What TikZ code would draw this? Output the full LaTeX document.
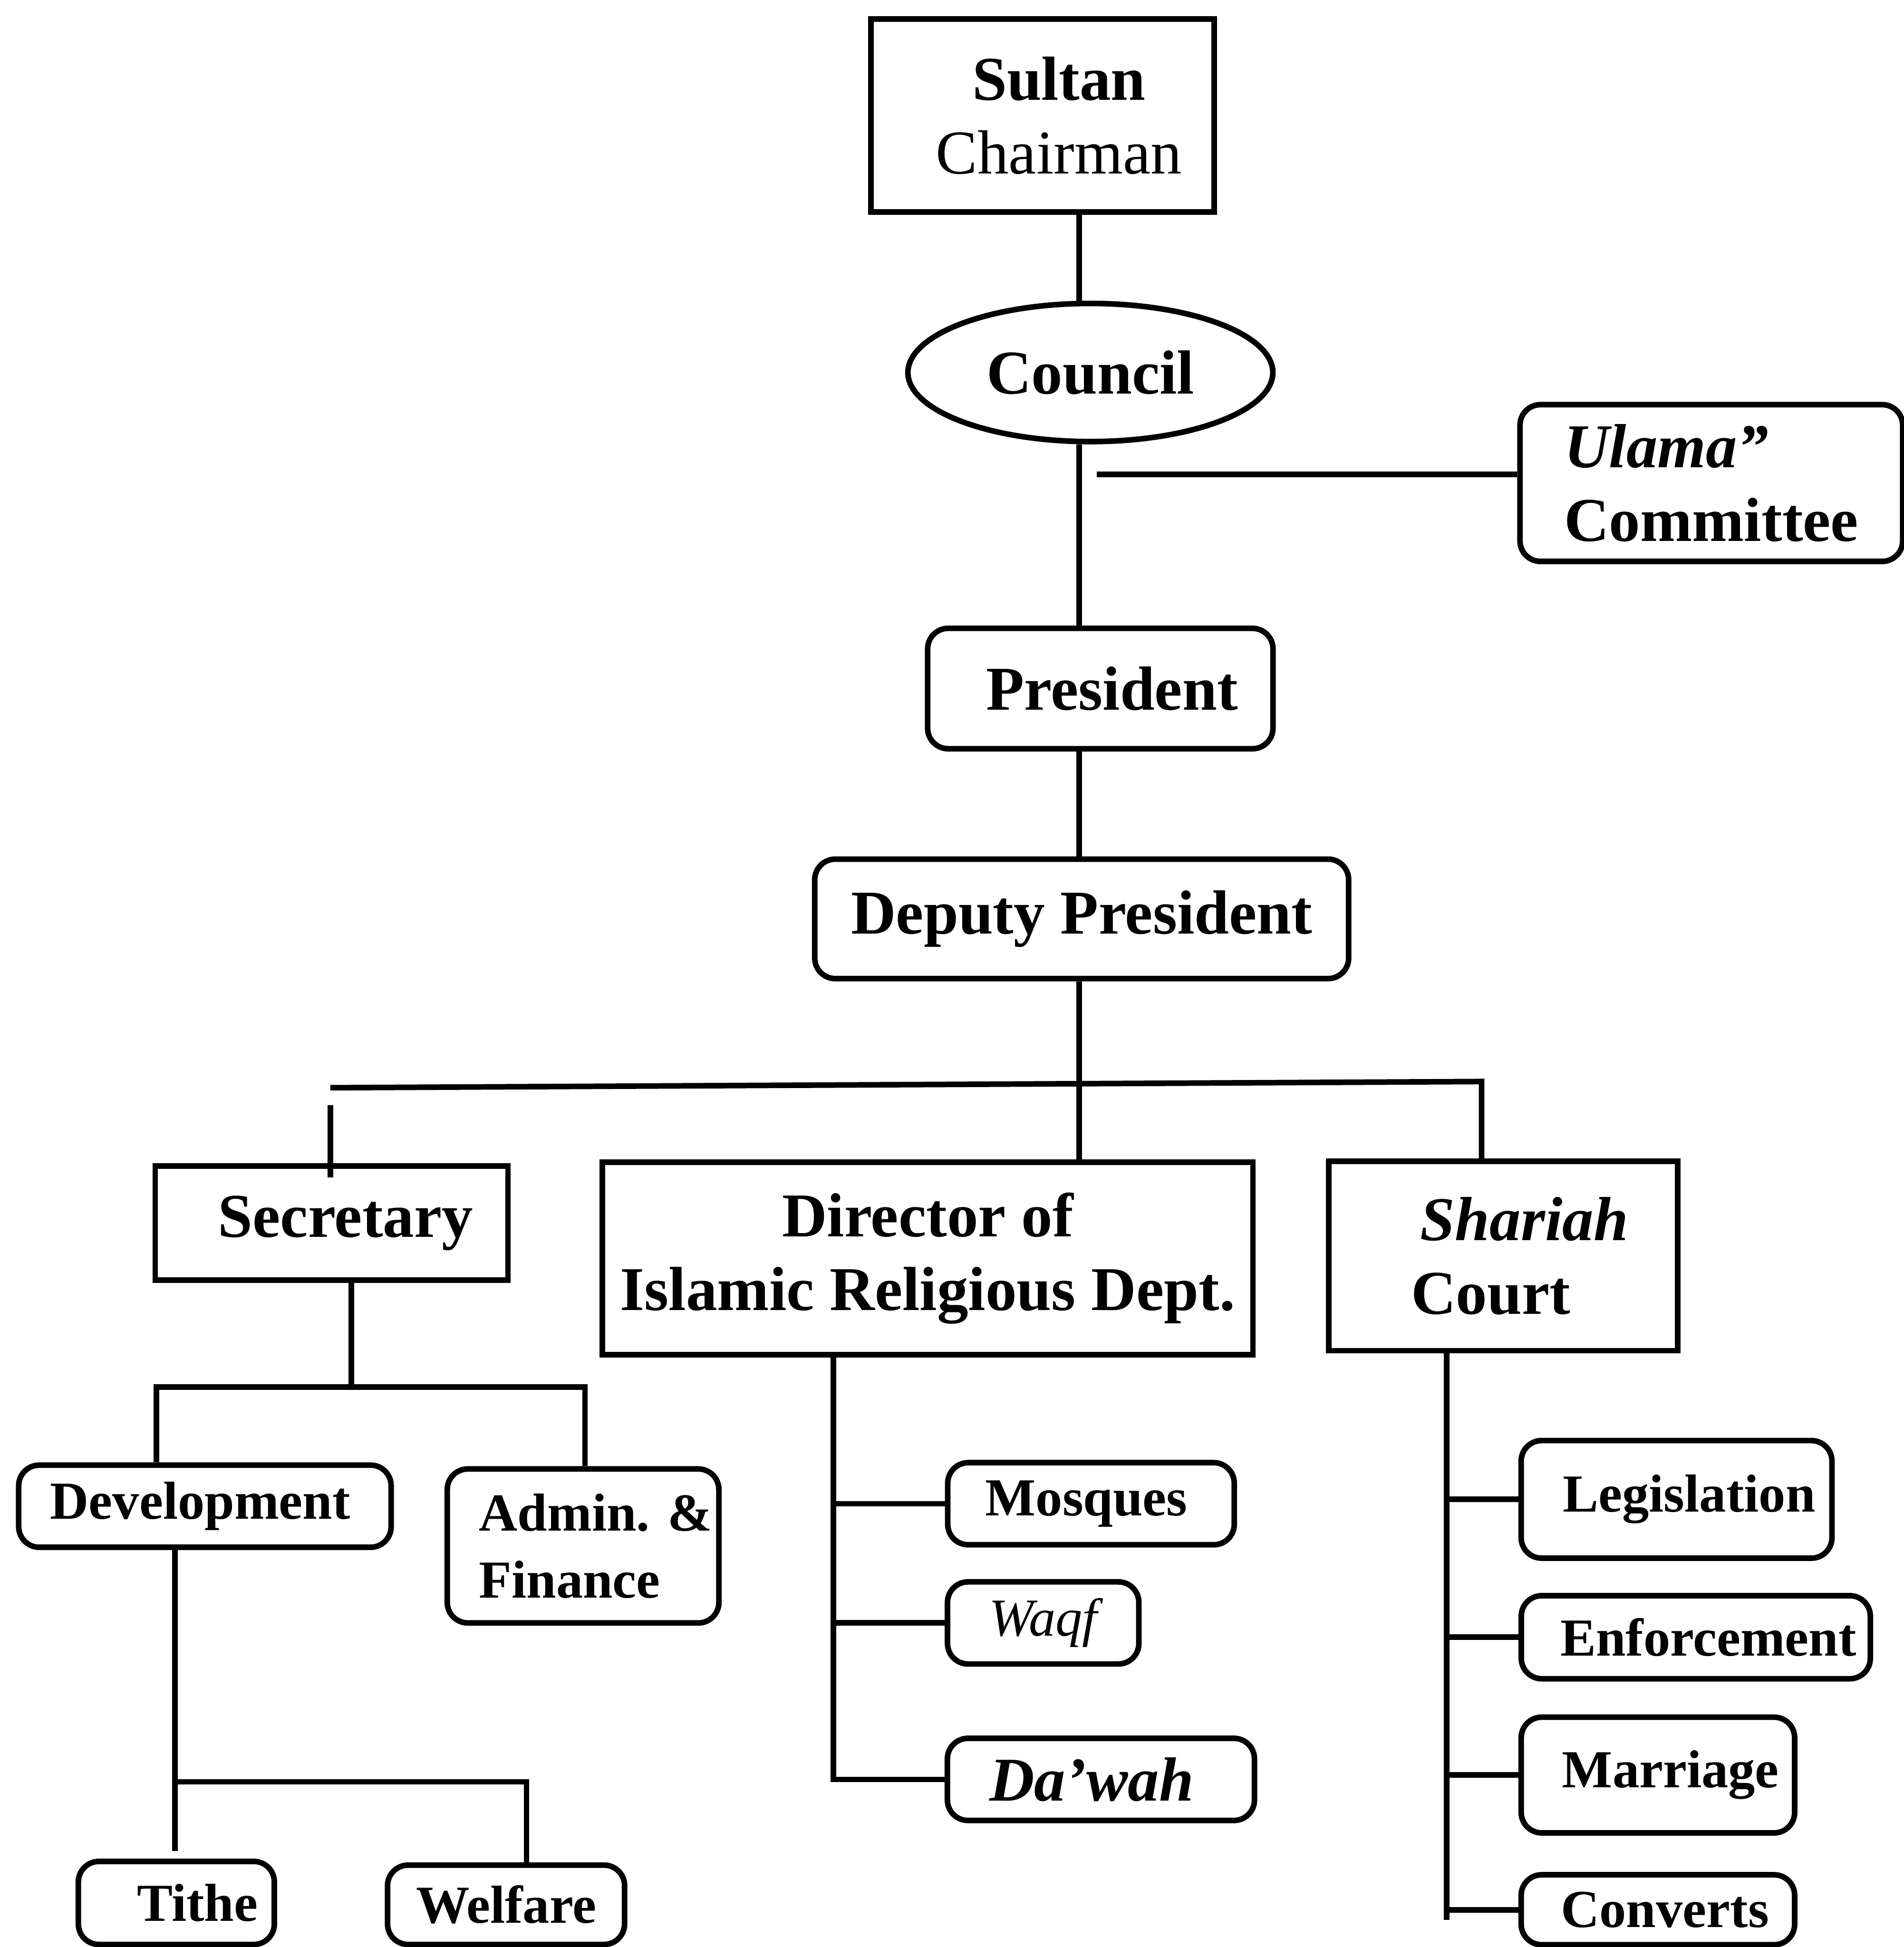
\documentclass[tikz,border=0pt]{standalone}
\usepackage{fontspec}
\setmainfont{Liberation Serif}
\usepackage{tikz}
\usetikzlibrary{shapes.geometric}

\newcommand{\orgbig}{\fontsize{19}{22.5}\selectfont\bfseries}
\newcommand{\orgsmall}{\fontsize{16.3}{20.4}\selectfont\bfseries}

\begin{document}
\begin{tikzpicture}[
        x=0.0133cm, y=-0.0133cm,
        line width=1.7pt,
        box/.style={draw, rectangle, inner sep=0pt, align=center, font=\orgbig},
        rbox/.style={draw, rounded corners=0.22cm, inner sep=0pt, align=center, font=\orgbig},
        sbox/.style={rbox, font=\orgsmall},
        oval/.style={draw, ellipse, inner sep=0pt, font=\orgbig}
      ]
      \useasboundingbox (0,0) rectangle (1533,1568);
      % top of the chart
      \node[box, minimum width=3.68cm, minimum height=2.07cm] (sultan) at (839.5,93) {\hspace*{0.35cm}Sultan\\\hspace*{0.35cm}\mdseries Chairman};
      \node[oval, minimum width=3.91cm, minimum height=1.48cm] (council) at (878,300) {Council};
      \node[rbox, align=left, minimum width=4.10cm, minimum height=1.68cm] (ulama) at (1378,389) {\itshape Ulama''\\Committee};
      \node[rbox, minimum width=3.70cm, minimum height=1.29cm] (president) at (886,554.5) {\hspace*{0.25cm}President};
      \node[rbox, minimum width=5.72cm, minimum height=1.28cm] (deputy) at (871,740) {Deputy President};
      % second level
      \node[box, minimum width=3.78cm, minimum height=1.22cm] (secretary) at (267,985) {\hspace*{0.3cm}Secretary};
      \node[box, minimum width=6.97cm, minimum height=2.06cm] (director) at (747,1013.5) {Director of\\Islamic Religious Dept.};
      \node[box, align=left, minimum width=3.74cm, minimum height=2.03cm] (shariah) at (1210.5,1011.5) {\hspace*{0.45cm}\itshape Shariah\\\hspace*{0.35cm}Court};
      % secretary units
      \node[sbox, minimum width=3.99cm, minimum height=0.88cm] (development) at (165,1213) {Development\hspace*{0.1cm}};
      \node[sbox, align=left, minimum width=2.91cm, minimum height=1.65cm] (admin) at (469.5,1245) {\hspace*{0.27cm}Admin. \&\\\hspace*{0.27cm}Finance};
      \node[sbox, minimum width=2.10cm, minimum height=0.89cm] (tithe) at (142,1532.5) {\hspace*{0.45cm}Tithe};
      \node[sbox, minimum width=2.54cm, minimum height=0.85cm] (welfare) at (407.5,1534) {Welfare};
      % department units
      \node[sbox, minimum width=3.07cm, minimum height=0.88cm] (mosques) at (878.5,1211) {Mosques\hspace*{0.1cm}};
      \node[sbox, minimum width=2.05cm, minimum height=0.88cm] (waqf) at (840,1307) {\raisebox{-0.15cm}{\mdseries\itshape Waqf}};
      \node[rbox, minimum width=3.29cm, minimum height=0.88cm] (dawah) at (886.5,1433) {\itshape Da'wah\hspace*{0.2cm}};
      % court units
      \node[sbox, minimum width=3.33cm, minimum height=1.26cm] (legislation) at (1350,1207.5) {\hspace*{0.27cm}Legislation};
      \node[sbox, minimum width=3.74cm, minimum height=0.89cm] (enforcement) at (1365.5,1318.5) {\hspace*{0.27cm}Enforcement};
      \node[sbox, minimum width=2.93cm, minimum height=1.24cm] (marriage) at (1335,1429.5) {\hspace*{0.27cm}Marriage};
      \node[sbox, minimum width=2.93cm, minimum height=0.75cm] (converts) at (1335,1538) {\hspace*{0.15cm}Converts};
      % spine and buses
      \coordinate (axis) at (869,0);
      \coordinate (ulama-tap) at (883,382);
      \coordinate (busL) at (266,876);
      \coordinate (busR) at (1193,871);
      \coordinate (sec-drop) at (266,890);
      \coordinate (secbus) at (283,1117);
      \coordinate (devtap) at (126,1117);
      \coordinate (admtap) at (471,1117);
      \coordinate (tithebus) at (141,1435);
      \coordinate (welfbus) at (424,1435);
      \coordinate (dirax) at (671,0);
      \coordinate (shax) at (1165,0);
      \coordinate (shend) at (1165,1546);
      \draw (axis |- sultan.south) -- (axis |- council.north);
      \draw (axis |- council.south) -- (axis |- president.north);
      \draw (ulama-tap) -- (ulama-tap -| ulama.west);
      \draw (axis |- president.south) -- (axis |- deputy.north);
      \draw (axis |- deputy.south) -- (axis |- director.north);
      \draw (busL) -- (busR) -- (busR |- shariah.north);
      \draw (sec-drop) -- ([yshift=-0.15cm]sec-drop |- secretary.north);
      % secretary branch
      \draw (secbus |- secretary.south) -- (secbus);
      \draw (devtap |- development.north) -- (devtap) -- (admtap) -- (admtap |- admin.north);
      \draw (tithebus |- development.south) -- ([yshift=0.08cm]tithebus |- tithe.north);
      \draw (tithebus) -- (welfbus) -- (welfbus |- welfare.north);
      % department branch
      \draw (dirax |- director.south) -- (dirax |- dawah.west) -- (dawah.west);
      \draw (dirax |- mosques.west) -- (mosques.west);
      \draw (dirax |- waqf.west) -- (waqf.west);
      % court branch
      \draw (shax |- shariah.south) -- (shend);
      \draw (shax |- legislation.west) -- (legislation.west);
      \draw (shax |- enforcement.west) -- (enforcement.west);
      \draw (shax |- marriage.west) -- (marriage.west);
      \draw (shax |- converts.west) -- (converts.west);
    \end{tikzpicture}
\end{document}
